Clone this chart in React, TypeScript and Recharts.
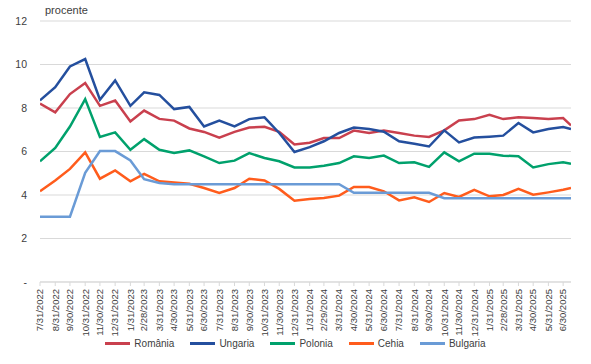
import { LineChart, Line, XAxis, YAxis, CartesianGrid, Legend } from "recharts";

// month-end observations, last point mid-July 2025
const dates = [
  "7/31/2022", "8/31/2022", "9/30/2022", "10/31/2022", "11/30/2022", "12/31/2022",
  "1/31/2023", "2/28/2023", "3/31/2023", "4/30/2023", "5/31/2023", "6/30/2023",
  "7/31/2023", "8/31/2023", "9/30/2023", "10/31/2023", "11/30/2023", "12/31/2023",
  "1/31/2024", "2/29/2024", "3/31/2024", "4/30/2024", "5/31/2024", "6/30/2024",
  "7/31/2024", "8/31/2024", "9/30/2024", "10/31/2024", "11/30/2024", "12/31/2024",
  "1/31/2025", "2/28/2025", "3/31/2025", "4/30/2025", "5/31/2025", "6/30/2025",
  "7/16/2025",
];

const romania = [
  8.2, 7.8, 8.64, 9.15, 8.1, 8.34, 7.38, 7.88, 7.5, 7.42, 7.06, 6.9,
  6.64, 6.9, 7.1, 7.14, 6.9, 6.32, 6.4, 6.62, 6.62, 6.96, 6.85, 6.97,
  6.85, 6.73, 6.67, 6.97, 7.43, 7.49, 7.69, 7.49, 7.57, 7.54, 7.49, 7.54, 7.2,
];
const ungaria = [
  8.35, 8.96, 9.91, 10.25, 8.38, 9.27, 8.1, 8.72, 8.6, 7.95, 8.05, 7.15,
  7.42, 7.15, 7.49, 7.57, 6.85, 5.98, 6.2, 6.47, 6.85, 7.1, 7.03, 6.91,
  6.47, 6.36, 6.23, 6.97, 6.42, 6.64, 6.68, 6.73, 7.31, 6.88, 7.03, 7.13, 7.03,
];
const polonia = [
  5.55, 6.16, 7.15, 8.41, 6.67, 6.88, 6.08, 6.57, 6.08, 5.93, 6.05, 5.78,
  5.47, 5.58, 5.93, 5.7, 5.55, 5.27, 5.27, 5.35, 5.47, 5.78, 5.7, 5.81,
  5.47, 5.5, 5.29, 5.96, 5.55, 5.9, 5.9, 5.81, 5.78, 5.27, 5.42, 5.5, 5.44,
];
const cehia = [
  4.17, 4.67, 5.2, 5.96, 4.75, 5.13, 4.63, 4.97, 4.63, 4.58, 4.52, 4.32,
  4.09, 4.32, 4.75, 4.67, 4.28, 3.74, 3.82, 3.86, 3.97, 4.37, 4.37, 4.17,
  3.75, 3.89, 3.68, 4.09, 3.91, 4.24, 3.94, 4.0, 4.28, 4.01, 4.12, 4.24, 4.32,
];
const bulgaria = [
  3.0, 3.0, 3.0, 5.02, 6.02, 6.02, 5.59, 4.73, 4.55, 4.5, 4.5, 4.5,
  4.5, 4.5, 4.5, 4.5, 4.5, 4.5, 4.5, 4.5, 4.5, 4.1, 4.1, 4.1,
  4.1, 4.1, 4.1, 3.85, 3.85, 3.85, 3.85, 3.85, 3.85, 3.85, 3.85, 3.85, 3.85,
];

const yTicks = [0, 2, 4, 6, 8, 10, 12];

const SERIES = [
  { key: "romania", name: "România", color: "#C9404E" },
  { key: "ungaria", name: "Ungaria", color: "#244F9E" },
  { key: "polonia", name: "Polonia", color: "#00A16C" },
  { key: "cehia", name: "Cehia", color: "#FF5C1C" },
  { key: "bulgaria", name: "Bulgaria", color: "#6A9BD6" },
];

const toDay = (d: string) => {
  const [m, dd, y] = d.split("/").map(Number);
  return Date.UTC(y, m - 1, dd) / 86400000;
};
const day0 = toDay(dates[0]);

const data = dates.map((d, i) => ({
  t: toDay(d) - day0,
  romania: romania[i],
  ungaria: ungaria[i],
  polonia: polonia[i],
  cehia: cehia[i],
  bulgaria: bulgaria[i],
}));

// ticks only on the month-end dates
const tickDates = dates.slice(0, 36);
const xTicks = tickDates.map((d) => toDay(d) - day0);
const labelOf = new Map(xTicks.map((t, i) => [t, tickDates[i]]));
const lastT = data[data.length - 1].t;

function DateTick({ x, y, payload }: any) {
  return (
    <text
      x={x}
      y={y}
      transform={`rotate(-90 ${x} ${y})`}
      textAnchor="end"
      dy="0.35em"
      fill="#404040"
      fontSize={9.5}
    >
      {labelOf.get(payload.value)}
    </text>
  );
}

function LegendRow() {
  return (
    <div style={{ display: "flex", justifyContent: "center", alignItems: "center", gap: 16 }}>
      {SERIES.map((s) => (
        <div key={s.key} style={{ display: "flex", alignItems: "center" }}>
          <span style={{ width: 25, height: 3, background: s.color, marginRight: 4 }} />
          <span style={{ fontSize: 10, color: "#404040" }}>{s.name}</span>
        </div>
      ))}
    </div>
  );
}

export default function App() {
  return (
    <div
      style={{
        position: "absolute",
        left: 0,
        top: 0,
        width: 591,
        height: 364,
        background: "#fff",
        fontFamily: "'Liberation Sans', Arial, sans-serif",
      }}
    >
      <div style={{ position: "absolute", left: 45, top: 4, fontSize: 11, color: "#404040" }}>
        procente
      </div>
      <LineChart
        width={591}
        height={364}
        data={data}
        margin={{ top: 21, right: 20, left: 0, bottom: 0 }}
      >
        <CartesianGrid vertical={false} stroke="#D9D9D9" />
        <XAxis
          type="number"
          dataKey="t"
          domain={[0, lastT]}
          ticks={xTicks}
          interval={0}
          height={82}
          tickSize={4}
          tickMargin={3}
          axisLine={{ stroke: "#D9D9D9" }}
          tickLine={{ stroke: "#D9D9D9" }}
          tick={<DateTick />}
          allowDataOverflow
        />
        <YAxis
          domain={[0, 12]}
          ticks={yTicks}
          width={40}
          axisLine={false}
          tickLine={false}
          tickSize={0}
          tickMargin={13}
          tick={{ fill: "#404040", fontSize: 10.5 }}
          tickFormatter={(v: number) => (v === 0 ? "-" : String(v))}
        />
        <Legend
          layout="horizontal"
          verticalAlign="middle"
          align="center"
          wrapperStyle={{ top: 338, left: 0, width: 591 }}
          content={() => <LegendRow />}
        />
        {SERIES.map((s) => (
          <Line
            key={s.key}
            type="linear"
            dataKey={s.key}
            name={s.name}
            stroke={s.color}
            strokeWidth={2.5}
            dot={false}
            activeDot={false}
            isAnimationActive={false}
          />
        ))}
      </LineChart>
    </div>
  );
}
